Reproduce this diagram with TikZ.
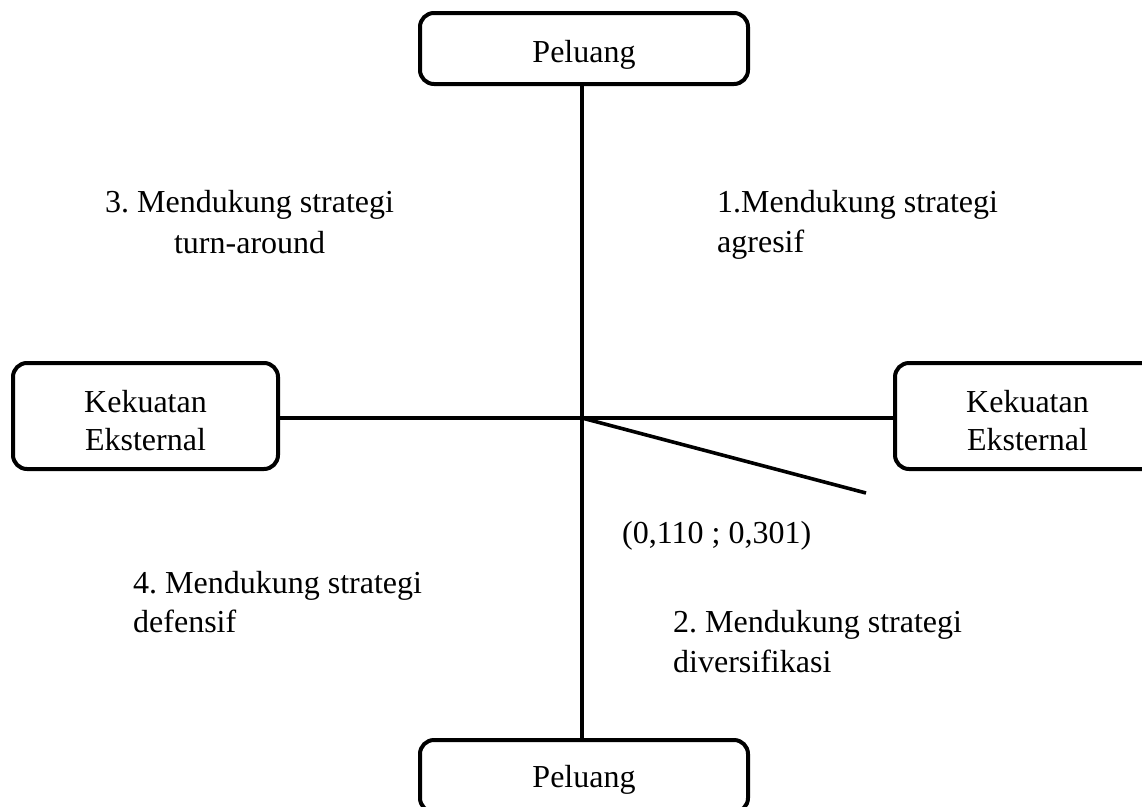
\documentclass[tikz,border=0pt]{standalone}
\usepackage{fontspec}
\setmainfont{Liberation Serif}
\frenchspacing
\begin{document}
\begin{tikzpicture}[x=1pt,y=-1pt]
\tikzset{
  box/.style={draw, line width=4pt, rounded corners=14pt, inner sep=0pt,
    font=\fontsize{32}{38}\selectfont\frenchspacing, align=center},
  axis/.style={line width=3.6pt},
  lbl/.style={inner sep=0pt, font=\fontsize{32}{40}\selectfont\frenchspacing},
}
\useasboundingbox (0,0) rectangle (1142,806);
\clip (0,0) rectangle (1142,806);
\fill[white] (0,0) rectangle (1142,806);
\node[box, minimum width=328pt, minimum height=71pt, text height=27pt, text depth=0pt] (top) at (584,48.5) {Peluang};
\node[box, minimum width=328pt, minimum height=72pt, text height=22pt, text depth=0pt] (bot) at (584,776) {Peluang};
\node[box, minimum width=265pt, minimum height=106pt, text height=68pt, text depth=0pt] (left) at (145.5,416) {Kekuatan\\Eksternal};
\node[box, minimum width=265pt, minimum height=106pt, text height=68pt, text depth=0pt] (right) at (1027.5,416) {Kekuatan\\Eksternal};
\coordinate (c) at (582,418);
\coordinate (e) at (866,493);
\draw[axis] (top.south -| c) -- (bot.north -| c);
\draw[axis] (left.east |- c) -- (right.west |- c);
\draw[axis] (c) -- (e);
\node[lbl, align=center, anchor=base west] (q3) at (105,253) {3. Mendukung strategi\\[1pt]turn-around};
\node[lbl, align=left, anchor=base west] (q1) at (717,252) {1.Mendukung strategi\\agresif};
\node[lbl, anchor=base west] (pt) at (622,543) {(0,110 ; 0,301)};
\node[lbl, align=left, anchor=base west] (q4) at (133,632) {4. Mendukung strategi\\[-1pt]defensif};
\node[lbl, align=left, anchor=base west] (q2) at (673,672) {2. Mendukung strategi\\diversifikasi};
\end{tikzpicture}
\end{document}
